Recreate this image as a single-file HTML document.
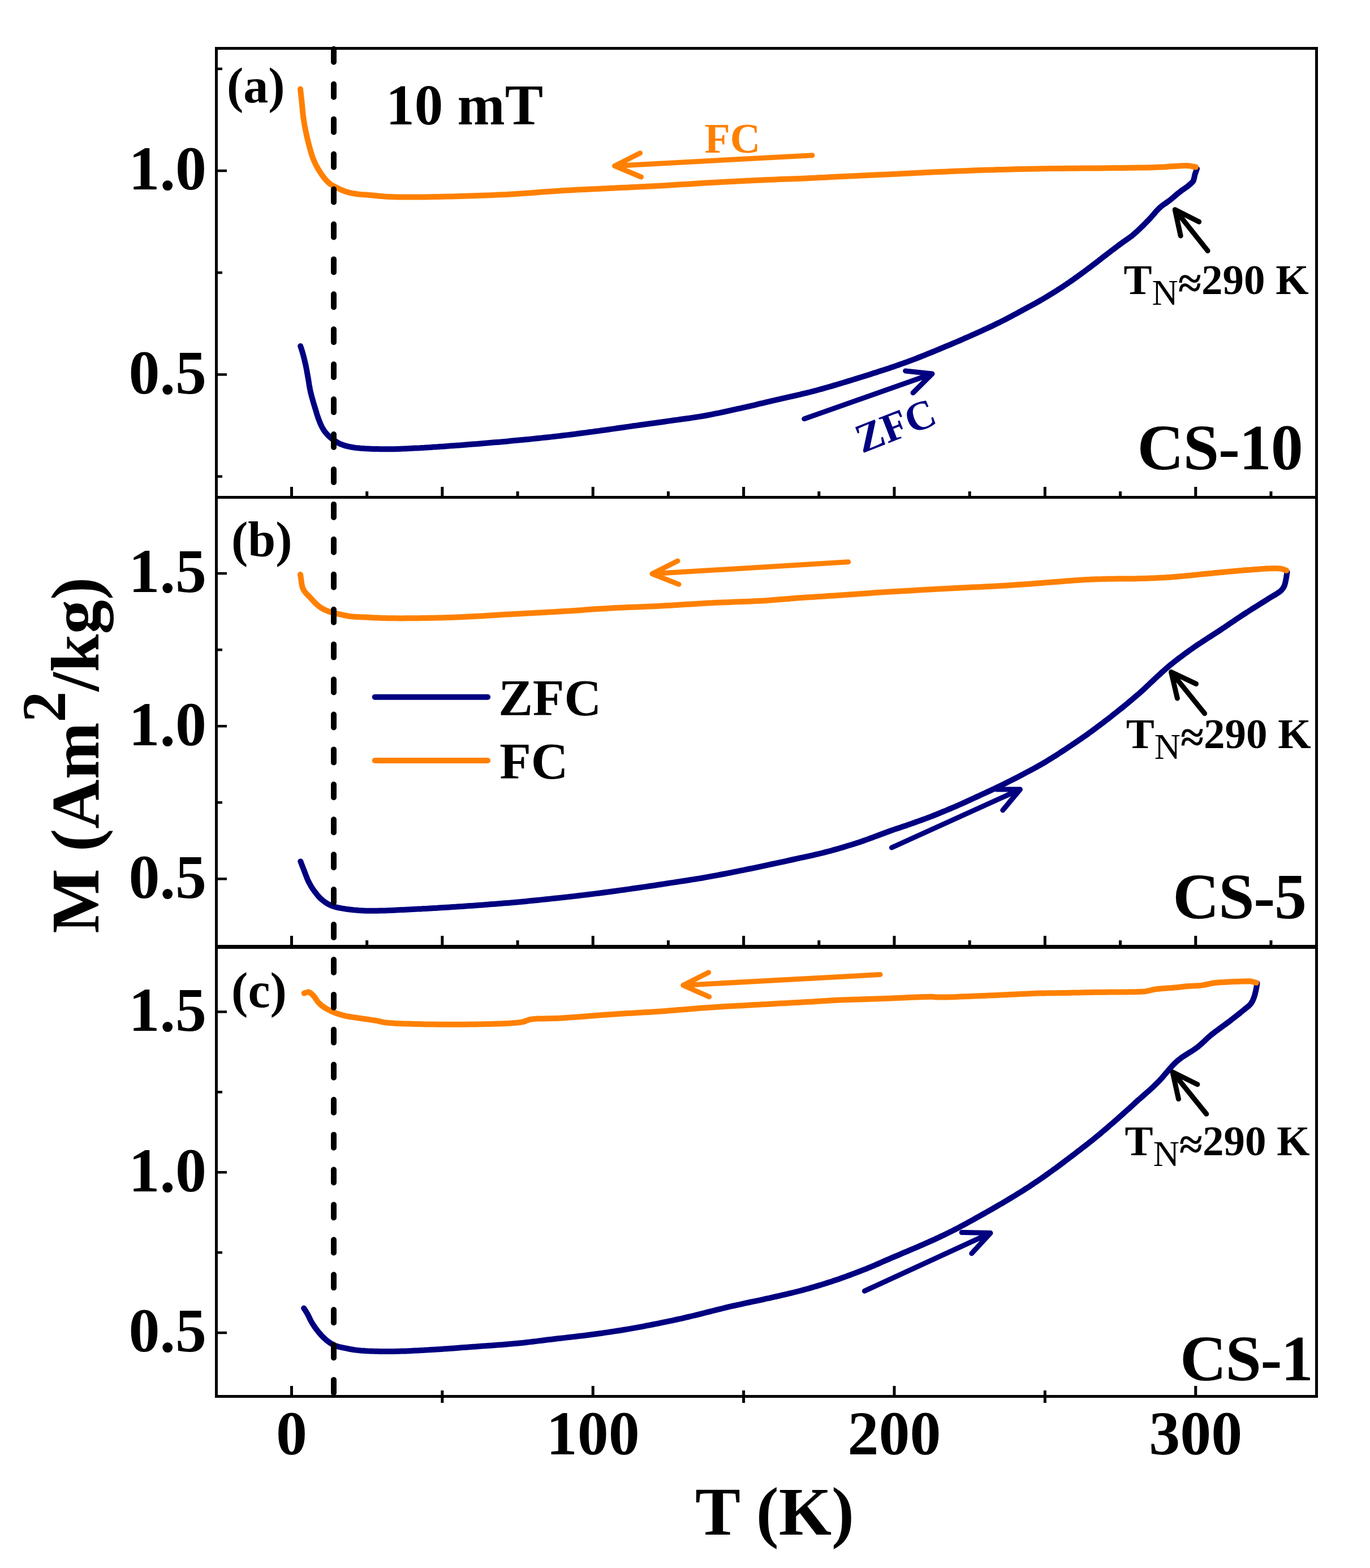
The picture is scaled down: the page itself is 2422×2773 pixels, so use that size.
<!DOCTYPE html>
<html><head><meta charset="utf-8"><style>
html,body{margin:0;padding:0;background:#fff;}
svg{display:block;}
text{font-family:'Liberation Serif', 'Times New Roman', serif;}
</style></head><body>
<svg xmlns="http://www.w3.org/2000/svg" width="2422" height="2773" viewBox="0 0 2422 2773">
<rect width="2422" height="2773" fill="#fff"/>
<path d="M531.2,612.0 L532.8,616.9 L534.5,622.3 L535.6,626.2 L536.8,630.6 L538.0,635.3 L539.1,640.0 L540.2,644.6 L541.1,649.1 L542.0,653.5 L542.8,658.0 L543.6,662.5 L544.4,667.0 L545.2,671.5 L545.9,676.1 L546.6,680.6 L547.4,685.0 L548.2,689.3 L549.2,693.8 L550.3,698.2 L551.4,702.4 L552.6,706.7 L553.8,710.9 L555.0,715.1 L556.3,719.3 L557.6,723.5 L558.9,727.7 L560.1,731.9 L561.4,736.0 L562.9,740.2 L564.5,744.5 L566.2,748.8 L568.1,753.0 L570.2,757.0 L572.3,760.5 L574.6,763.8 L577.2,766.9 L580.0,770.0 L583.0,772.8 L586.4,775.5 L589.9,778.2 L593.4,780.6 L596.7,782.6 L600.4,784.6 L604.0,786.1 L607.9,787.4 L611.8,788.6 L616.0,789.6 L620.3,790.5 L624.6,791.3 L628.7,791.9 L632.8,792.3 L637.0,792.7 L641.4,793.0 L645.6,793.3 L650.0,793.5 L654.5,793.7 L659.1,793.9 L663.7,794.0 L667.9,794.1 L672.1,794.2 L676.4,794.3 L680.7,794.3 L685.3,794.3 L690.0,794.3 L693.6,794.2 L697.4,794.2 L701.2,794.0 L705.2,793.9 L709.2,793.7 L713.3,793.6 L717.4,793.4 L721.6,793.2 L725.8,793.0 L730.0,792.8 L733.9,792.6 L737.9,792.4 L741.9,792.2 L746.0,791.9 L750.1,791.7 L754.2,791.4 L758.4,791.2 L762.6,790.9 L766.9,790.6 L771.2,790.4 L775.6,790.1 L780.0,789.8 L785.2,789.4 L790.6,789.0 L796.1,788.6 L801.6,788.2 L807.2,787.8 L812.9,787.4 L818.6,787.0 L824.3,786.5 L830.0,786.1 L835.7,785.6 L841.4,785.2 L847.0,784.7 L852.6,784.2 L858.2,783.8 L863.7,783.3 L869.3,782.8 L874.9,782.3 L880.5,781.9 L886.1,781.4 L891.6,780.9 L897.2,780.4 L902.8,779.8 L908.3,779.3 L913.9,778.8 L919.4,778.3 L924.9,777.7 L930.4,777.2 L936.0,776.7 L941.5,776.1 L947.0,775.6 L952.5,775.0 L958.0,774.4 L963.5,773.8 L969.0,773.2 L974.5,772.6 L980.0,772.0 L985.6,771.4 L991.1,770.7 L996.7,770.0 L1002.3,769.4 L1007.9,768.7 L1013.5,768.0 L1019.1,767.3 L1024.7,766.5 L1030.3,765.8 L1035.8,765.1 L1041.4,764.3 L1047.0,763.6 L1052.6,762.8 L1058.2,762.1 L1063.7,761.3 L1069.3,760.5 L1074.9,759.7 L1080.5,758.9 L1086.1,758.1 L1091.6,757.3 L1097.2,756.5 L1102.8,755.7 L1108.3,754.9 L1113.9,754.1 L1119.4,753.3 L1124.9,752.6 L1130.4,751.8 L1135.9,751.0 L1141.4,750.3 L1146.9,749.5 L1152.4,748.8 L1158.0,748.0 L1163.5,747.2 L1169.0,746.5 L1174.5,745.7 L1180.0,744.9 L1185.6,744.1 L1191.1,743.3 L1196.7,742.6 L1202.3,741.8 L1207.9,741.0 L1213.5,740.2 L1219.1,739.5 L1224.7,738.6 L1230.3,737.8 L1235.9,736.9 L1241.4,736.0 L1247.0,735.0 L1252.6,734.0 L1258.3,732.9 L1264.0,731.7 L1269.8,730.6 L1275.5,729.4 L1281.3,728.1 L1286.9,726.9 L1292.5,725.7 L1298.1,724.4 L1303.5,723.2 L1308.8,722.1 L1313.9,720.9 L1318.5,719.9 L1323.0,718.8 L1327.4,717.8 L1331.8,716.8 L1336.1,715.8 L1340.4,714.7 L1344.5,713.7 L1348.6,712.8 L1352.5,711.8 L1356.3,710.9 L1360.0,710.1 L1364.9,708.9 L1369.5,707.9 L1373.8,706.8 L1378.1,705.9 L1382.4,704.9 L1386.8,703.9 L1391.3,702.9 L1395.7,701.9 L1400.2,700.9 L1404.7,699.8 L1409.1,698.8 L1413.6,697.8 L1418.1,696.7 L1422.5,695.7 L1427.0,694.6 L1431.5,693.5 L1435.9,692.3 L1440.4,691.2 L1444.8,690.0 L1449.2,688.8 L1453.6,687.6 L1458.1,686.3 L1462.6,685.0 L1467.2,683.7 L1471.1,682.6 L1475.1,681.4 L1479.1,680.2 L1483.2,679.0 L1487.3,677.7 L1491.5,676.5 L1495.7,675.2 L1500.0,673.9 L1503.9,672.7 L1507.8,671.5 L1511.8,670.3 L1515.8,669.0 L1519.9,667.7 L1524.0,666.5 L1528.0,665.2 L1532.1,663.9 L1536.1,662.7 L1540.0,661.4 L1544.1,660.1 L1548.1,658.9 L1552.1,657.6 L1556.0,656.3 L1560.0,655.0 L1563.9,653.8 L1567.8,652.5 L1571.8,651.2 L1575.7,649.8 L1579.7,648.5 L1583.6,647.1 L1587.6,645.7 L1591.6,644.3 L1595.6,642.9 L1599.5,641.5 L1603.5,640.1 L1607.4,638.6 L1611.4,637.1 L1615.4,635.6 L1619.4,634.1 L1623.3,632.5 L1627.3,631.0 L1631.3,629.4 L1635.2,627.8 L1639.2,626.2 L1643.1,624.6 L1647.1,623.0 L1651.2,621.3 L1655.3,619.6 L1659.5,617.9 L1663.7,616.1 L1667.9,614.4 L1671.9,612.7 L1675.8,611.1 L1679.5,609.6 L1682.9,608.1 L1687.5,606.2 L1691.5,604.5 L1695.4,602.8 L1700.0,600.8 L1703.4,599.3 L1707.1,597.7 L1711.0,596.0 L1715.0,594.2 L1719.1,592.4 L1723.3,590.5 L1727.5,588.7 L1731.7,586.8 L1735.7,585.0 L1739.7,583.1 L1743.7,581.3 L1747.6,579.4 L1751.6,577.6 L1755.6,575.7 L1759.5,573.8 L1763.5,571.8 L1767.5,569.9 L1771.4,567.9 L1775.0,566.1 L1778.6,564.3 L1782.1,562.4 L1785.7,560.5 L1789.3,558.6 L1792.8,556.7 L1796.4,554.8 L1800.0,552.9 L1803.5,550.9 L1807.1,549.0 L1810.7,547.0 L1814.5,545.0 L1818.3,542.9 L1822.1,540.9 L1825.8,538.8 L1829.5,536.8 L1833.1,534.8 L1836.6,532.8 L1839.9,531.0 L1842.9,529.2 L1847.6,526.5 L1851.7,524.1 L1855.7,521.6 L1860.0,519.0 L1863.6,516.8 L1867.2,514.5 L1871.0,512.1 L1874.8,509.6 L1878.6,507.2 L1882.3,504.7 L1886.0,502.2 L1889.7,499.7 L1893.4,497.1 L1897.0,494.6 L1900.8,491.9 L1904.6,489.2 L1907.8,486.8 L1911.2,484.4 L1914.5,482.0 L1917.9,479.5 L1921.3,476.9 L1924.7,474.4 L1928.0,471.9 L1931.4,469.3 L1934.8,466.8 L1938.1,464.2 L1941.5,461.6 L1944.8,459.0 L1948.1,456.4 L1951.5,453.8 L1954.8,451.2 L1958.2,448.6 L1961.6,446.0 L1965.0,443.4 L1968.5,440.8 L1971.9,438.2 L1975.3,435.6 L1978.7,433.1 L1981.9,430.7 L1985.0,428.4 L1988.8,425.8 L1992.3,423.4 L1995.7,421.0 L1999.2,418.5 L2002.9,415.6 L2005.7,413.1 L2008.7,410.5 L2011.8,407.6 L2014.9,404.7 L2018.0,401.7 L2021.1,398.6 L2024.2,395.5 L2027.1,392.5 L2030.0,389.6 L2033.2,386.2 L2036.3,382.7 L2039.4,379.2 L2042.3,375.7 L2045.3,372.4 L2048.2,369.3 L2051.2,366.5 L2054.6,363.7 L2057.9,361.3 L2061.3,359.0 L2064.6,356.7 L2067.9,354.3 L2071.3,351.6 L2074.6,348.7 L2077.9,345.9 L2081.2,343.0 L2084.6,340.3 L2088.0,337.7 L2091.6,335.2 L2095.1,332.7 L2098.5,330.3 L2101.4,328.0 L2106.0,324.2 L2109.5,320.2 L2111.2,314.8 L2112.3,309.1 L2114.1,303.8 L2116.0,298.5" fill="none" stroke="#000080" stroke-width="10" stroke-linecap="round" stroke-linejoin="round"/>
<path d="M531.0,157.5 L531.5,162.0 L532.0,166.5 L532.5,171.0 L533.0,175.6 L533.5,180.2 L533.9,184.3 L534.3,188.5 L534.7,192.7 L535.0,196.9 L535.5,201.1 L536.0,205.3 L536.6,209.5 L537.2,213.7 L537.9,217.9 L538.6,222.1 L539.4,226.3 L540.2,230.5 L541.1,234.7 L542.0,238.9 L542.9,243.1 L543.9,247.3 L544.9,251.4 L546.0,255.6 L547.1,259.8 L548.3,264.1 L549.5,268.4 L550.8,272.6 L552.1,276.7 L553.6,280.7 L555.3,284.9 L557.2,289.0 L559.1,292.9 L561.3,296.9 L563.6,300.8 L566.0,304.5 L568.5,308.4 L571.2,312.2 L574.1,315.9 L577.0,319.3 L580.0,322.3 L584.0,325.5 L588.1,328.1 L592.4,330.4 L596.7,332.6 L600.8,334.6 L605.0,336.5 L609.3,338.2 L613.5,339.6 L617.6,340.7 L621.7,341.6 L625.8,342.3 L630.2,343.0 L634.4,343.5 L638.8,343.9 L643.3,344.2 L647.8,344.5 L652.5,344.9 L656.8,345.3 L661.2,345.8 L665.7,346.3 L670.2,346.7 L675.0,347.1 L680.0,347.5 L683.6,347.7 L687.2,347.9 L691.0,348.0 L694.8,348.2 L698.7,348.3 L702.7,348.4 L706.8,348.4 L711.0,348.5 L715.4,348.5 L719.9,348.6 L724.6,348.6 L731.0,348.6 L737.7,348.6 L744.8,348.5 L752.1,348.4 L759.6,348.3 L767.3,348.1 L775.1,348.0 L783.0,347.8 L790.9,347.6 L798.7,347.4 L806.4,347.2 L813.9,347.0 L821.3,346.8 L828.8,346.6 L836.2,346.3 L843.7,346.1 L851.1,345.8 L858.6,345.5 L866.0,345.3 L873.4,344.9 L880.9,344.6 L888.3,344.3 L895.8,343.9 L903.2,343.5 L910.6,343.1 L918.1,342.6 L925.6,342.1 L933.0,341.5 L940.5,341.0 L947.9,340.4 L955.4,339.8 L962.8,339.3 L970.2,338.7 L977.7,338.2 L985.1,337.7 L992.5,337.2 L999.8,336.8 L1007.1,336.4 L1014.4,336.0 L1021.7,335.6 L1029.0,335.2 L1036.2,334.9 L1043.5,334.5 L1050.8,334.2 L1058.1,333.9 L1065.4,333.5 L1072.7,333.2 L1080.0,332.8 L1087.4,332.4 L1094.8,332.1 L1102.3,331.7 L1109.7,331.4 L1117.1,331.0 L1124.6,330.7 L1132.0,330.3 L1139.5,329.9 L1147.0,329.6 L1154.4,329.2 L1161.9,328.8 L1169.3,328.4 L1176.7,328.0 L1184.2,327.5 L1191.6,327.1 L1199.1,326.6 L1206.5,326.1 L1214.0,325.7 L1221.4,325.2 L1228.8,324.7 L1236.3,324.2 L1243.7,323.8 L1251.2,323.3 L1258.6,322.9 L1266.0,322.5 L1273.5,322.1 L1280.9,321.7 L1288.4,321.3 L1295.8,320.9 L1303.3,320.5 L1310.7,320.2 L1318.1,319.8 L1325.6,319.4 L1333.0,319.1 L1340.5,318.7 L1347.9,318.4 L1355.4,318.1 L1363.1,317.7 L1371.0,317.4 L1378.8,317.1 L1386.7,316.8 L1394.5,316.5 L1402.2,316.2 L1409.8,315.9 L1417.1,315.7 L1424.1,315.4 L1430.8,315.1 L1437.1,314.8 L1441.9,314.6 L1446.4,314.3 L1450.6,314.1 L1454.6,313.9 L1458.5,313.7 L1462.5,313.4 L1466.5,313.2 L1470.7,313.0 L1475.1,312.7 L1480.0,312.5 L1486.3,312.2 L1493.0,311.9 L1500.0,311.5 L1507.4,311.2 L1514.9,310.9 L1522.6,310.5 L1530.5,310.2 L1538.3,309.8 L1546.2,309.5 L1554.0,309.1 L1561.8,308.8 L1569.3,308.4 L1576.7,308.0 L1584.2,307.7 L1591.6,307.3 L1599.1,306.9 L1606.5,306.5 L1613.9,306.2 L1621.4,305.8 L1628.8,305.4 L1636.3,305.0 L1643.7,304.7 L1651.2,304.3 L1658.6,304.0 L1666.0,303.7 L1673.5,303.4 L1680.9,303.1 L1688.4,302.7 L1695.8,302.5 L1703.3,302.2 L1710.7,301.9 L1718.1,301.6 L1725.6,301.3 L1733.0,301.1 L1740.5,300.8 L1747.9,300.6 L1755.4,300.4 L1763.1,300.1 L1771.0,299.9 L1778.8,299.7 L1786.7,299.5 L1794.5,299.3 L1802.2,299.1 L1809.8,299.0 L1817.1,298.8 L1824.1,298.7 L1830.8,298.5 L1837.1,298.4 L1842.0,298.3 L1846.5,298.3 L1850.7,298.2 L1854.7,298.1 L1858.7,298.1 L1862.6,298.1 L1866.6,298.0 L1870.8,298.0 L1875.2,297.9 L1880.0,297.9 L1885.8,297.8 L1891.9,297.8 L1898.3,297.7 L1904.8,297.7 L1911.6,297.6 L1918.5,297.6 L1925.4,297.5 L1932.4,297.5 L1939.4,297.4 L1946.4,297.4 L1953.3,297.3 L1960.0,297.2 L1966.8,297.1 L1973.9,297.1 L1981.2,297.0 L1988.5,296.9 L1995.8,296.8 L2003.1,296.7 L2010.2,296.6 L2017.0,296.5 L2023.5,296.4 L2029.5,296.3 L2035.1,296.2 L2040.0,296.0 L2045.3,295.8 L2049.9,295.6 L2054.0,295.4 L2058.1,295.2 L2062.3,294.9 L2066.8,294.6 L2071.4,294.3 L2075.9,294.0 L2080.3,293.7 L2084.6,293.4 L2089.0,293.2 L2093.3,293.1 L2097.4,293.0 L2101.4,293.2 L2105.7,293.8 L2109.9,294.6 L2114.0,295.5" fill="none" stroke="#FF8000" stroke-width="10" stroke-linecap="round" stroke-linejoin="round"/>
<path d="M531.3,1523.4 L533.1,1528.0 L534.9,1532.7 L536.7,1537.3 L538.5,1541.9 L540.1,1546.2 L541.7,1550.3 L543.3,1554.5 L545.2,1558.6 L547.4,1562.8 L549.8,1567.1 L552.4,1571.2 L555.2,1575.3 L557.9,1578.8 L560.8,1582.4 L563.8,1585.9 L567.0,1589.2 L570.3,1592.1 L574.2,1595.1 L578.3,1597.8 L582.6,1600.1 L587.1,1602.1 L591.1,1603.5 L595.3,1604.6 L599.6,1605.5 L604.1,1606.3 L608.8,1607.1 L612.6,1607.7 L616.6,1608.2 L620.8,1608.7 L625.1,1609.2 L629.4,1609.6 L633.7,1610.0 L638.1,1610.3 L642.3,1610.5 L646.5,1610.7 L650.6,1610.8 L654.7,1610.8 L658.8,1610.8 L663.0,1610.8 L667.2,1610.7 L671.4,1610.6 L675.8,1610.5 L679.8,1610.4 L683.9,1610.3 L688.0,1610.1 L692.2,1609.9 L696.4,1609.7 L700.7,1609.5 L704.9,1609.3 L709.2,1609.1 L713.4,1608.9 L717.6,1608.7 L721.9,1608.5 L726.2,1608.3 L730.6,1608.0 L735.1,1607.8 L739.5,1607.6 L743.8,1607.4 L748.0,1607.1 L752.1,1606.9 L755.9,1606.7 L759.5,1606.5 L763.9,1606.3 L767.7,1606.1 L771.3,1605.9 L775.3,1605.6 L780.0,1605.3 L784.2,1605.1 L788.9,1604.8 L794.0,1604.4 L799.5,1604.1 L805.2,1603.7 L811.1,1603.3 L817.1,1602.9 L823.2,1602.5 L829.4,1602.1 L835.4,1601.7 L841.3,1601.3 L847.0,1600.8 L852.6,1600.4 L858.2,1600.0 L863.7,1599.6 L869.3,1599.1 L874.9,1598.7 L880.5,1598.3 L886.1,1597.8 L891.6,1597.3 L897.2,1596.9 L902.8,1596.4 L908.3,1595.9 L913.9,1595.4 L919.4,1594.9 L924.9,1594.4 L930.4,1593.9 L936.0,1593.3 L941.5,1592.8 L947.0,1592.2 L952.5,1591.7 L958.0,1591.1 L963.5,1590.6 L969.0,1590.0 L974.5,1589.4 L980.0,1588.8 L985.6,1588.2 L991.1,1587.6 L996.7,1587.0 L1002.3,1586.4 L1007.9,1585.7 L1013.5,1585.1 L1019.1,1584.5 L1024.7,1583.8 L1030.2,1583.1 L1035.8,1582.5 L1041.4,1581.8 L1047.0,1581.1 L1052.6,1580.4 L1058.2,1579.7 L1063.7,1579.0 L1069.3,1578.2 L1074.9,1577.5 L1080.5,1576.7 L1086.1,1576.0 L1091.6,1575.2 L1097.2,1574.4 L1102.8,1573.7 L1108.3,1572.9 L1113.9,1572.1 L1119.4,1571.3 L1124.9,1570.5 L1130.4,1569.7 L1136.0,1568.9 L1141.5,1568.1 L1147.0,1567.3 L1152.5,1566.5 L1158.0,1565.7 L1163.5,1564.8 L1169.0,1564.0 L1174.5,1563.1 L1180.0,1562.3 L1185.6,1561.4 L1191.1,1560.6 L1196.7,1559.8 L1202.3,1558.9 L1207.9,1558.0 L1213.5,1557.2 L1219.1,1556.3 L1224.7,1555.4 L1230.3,1554.5 L1235.8,1553.6 L1241.4,1552.7 L1247.0,1551.7 L1252.6,1550.7 L1258.2,1549.7 L1263.8,1548.7 L1269.3,1547.6 L1274.9,1546.5 L1280.5,1545.5 L1286.1,1544.4 L1291.6,1543.3 L1297.2,1542.2 L1302.8,1541.1 L1308.3,1539.9 L1313.9,1538.8 L1319.5,1537.7 L1325.3,1536.5 L1331.1,1535.3 L1337.0,1534.1 L1342.9,1532.8 L1348.8,1531.6 L1354.5,1530.4 L1360.1,1529.2 L1365.5,1528.0 L1370.7,1526.9 L1375.5,1525.9 L1380.0,1524.9 L1385.1,1523.8 L1389.6,1522.8 L1393.7,1521.9 L1397.8,1521.0 L1402.2,1520.0 L1407.1,1518.9 L1410.9,1518.1 L1415.0,1517.2 L1419.2,1516.3 L1423.6,1515.3 L1428.2,1514.3 L1432.8,1513.3 L1437.5,1512.3 L1442.2,1511.2 L1446.9,1510.1 L1451.6,1509.0 L1456.2,1507.9 L1460.7,1506.7 L1465.2,1505.5 L1469.9,1504.3 L1474.6,1502.9 L1479.3,1501.6 L1484.1,1500.2 L1488.8,1498.9 L1493.4,1497.5 L1497.9,1496.1 L1502.3,1494.8 L1506.5,1493.5 L1510.5,1492.2 L1514.3,1491.0 L1519.1,1489.4 L1523.4,1488.0 L1527.5,1486.5 L1531.5,1485.1 L1535.6,1483.6 L1540.0,1482.0 L1543.7,1480.7 L1547.5,1479.2 L1551.5,1477.8 L1555.5,1476.3 L1559.5,1474.8 L1563.6,1473.3 L1567.6,1471.8 L1571.7,1470.3 L1575.7,1468.8 L1579.7,1467.4 L1583.6,1466.1 L1587.6,1464.7 L1591.6,1463.4 L1595.5,1462.1 L1599.5,1460.7 L1603.5,1459.4 L1607.4,1458.0 L1611.4,1456.6 L1615.4,1455.2 L1619.3,1453.8 L1623.3,1452.4 L1627.3,1451.0 L1631.3,1449.5 L1635.2,1448.1 L1639.2,1446.6 L1643.1,1445.1 L1647.1,1443.6 L1651.2,1442.0 L1655.3,1440.4 L1659.5,1438.6 L1663.7,1436.9 L1667.9,1435.2 L1672.0,1433.5 L1675.8,1431.9 L1679.5,1430.3 L1682.9,1428.9 L1687.5,1427.0 L1691.5,1425.2 L1695.4,1423.5 L1700.0,1421.5 L1703.4,1419.9 L1707.1,1418.3 L1710.9,1416.5 L1715.0,1414.7 L1719.1,1412.8 L1723.3,1410.8 L1727.5,1408.9 L1731.7,1407.0 L1735.7,1405.1 L1739.7,1403.3 L1743.6,1401.4 L1747.6,1399.6 L1751.6,1397.7 L1755.6,1395.9 L1759.5,1394.0 L1763.5,1392.1 L1767.4,1390.2 L1771.4,1388.3 L1775.0,1386.5 L1778.6,1384.7 L1782.1,1382.9 L1785.7,1381.1 L1789.3,1379.3 L1792.8,1377.5 L1796.4,1375.7 L1800.0,1373.8 L1803.5,1372.0 L1807.1,1370.1 L1810.7,1368.2 L1814.5,1366.2 L1818.3,1364.2 L1822.1,1362.1 L1825.9,1360.1 L1829.6,1358.1 L1833.2,1356.1 L1836.6,1354.2 L1839.9,1352.3 L1842.9,1350.6 L1846.7,1348.4 L1850.1,1346.4 L1853.2,1344.4 L1856.5,1342.4 L1860.0,1340.2 L1863.4,1338.1 L1866.9,1335.9 L1870.5,1333.6 L1874.1,1331.2 L1877.9,1328.7 L1881.8,1326.2 L1885.7,1323.6 L1889.0,1321.4 L1892.5,1319.1 L1896.0,1316.7 L1899.6,1314.3 L1903.2,1311.9 L1906.9,1309.4 L1910.6,1306.9 L1914.2,1304.3 L1917.8,1301.8 L1921.4,1299.3 L1924.7,1296.9 L1928.0,1294.5 L1931.3,1292.1 L1934.5,1289.7 L1937.8,1287.3 L1941.1,1284.8 L1944.4,1282.3 L1947.6,1279.9 L1950.8,1277.5 L1954.0,1275.0 L1957.1,1272.6 L1960.7,1269.9 L1964.3,1267.1 L1967.9,1264.2 L1971.5,1261.4 L1975.0,1258.6 L1978.4,1255.9 L1981.7,1253.3 L1984.9,1250.8 L1987.8,1248.4 L1991.3,1245.5 L1994.4,1242.9 L1997.4,1240.4 L2000.4,1237.9 L2003.4,1235.3 L2006.5,1232.7 L2009.5,1230.1 L2012.6,1227.5 L2015.7,1224.8 L2019.0,1221.8 L2021.7,1219.3 L2024.6,1216.7 L2027.5,1213.9 L2030.5,1211.1 L2033.5,1208.2 L2036.5,1205.3 L2039.5,1202.5 L2042.5,1199.7 L2045.8,1196.6 L2049.2,1193.6 L2052.5,1190.5 L2055.8,1187.4 L2059.2,1184.4 L2062.5,1181.5 L2065.9,1178.6 L2069.2,1175.8 L2072.6,1173.2 L2075.9,1170.5 L2079.3,1167.9 L2082.6,1165.3 L2086.0,1162.7 L2089.4,1160.2 L2092.7,1157.8 L2095.8,1155.4 L2099.0,1153.1 L2102.2,1150.8 L2105.5,1148.5 L2109.0,1146.0 L2112.8,1143.4 L2116.0,1141.2 L2119.4,1138.9 L2123.0,1136.6 L2126.7,1134.1 L2130.5,1131.7 L2134.4,1129.1 L2138.4,1126.6 L2142.3,1124.0 L2146.2,1121.5 L2150.1,1119.0 L2154.0,1116.5 L2157.7,1114.0 L2161.2,1111.6 L2164.8,1109.3 L2168.3,1106.9 L2171.7,1104.6 L2175.2,1102.2 L2178.7,1099.9 L2182.1,1097.6 L2185.6,1095.2 L2189.1,1092.9 L2192.5,1090.6 L2196.0,1088.3 L2199.5,1086.0 L2203.0,1083.7 L2206.6,1081.4 L2210.2,1079.1 L2213.9,1076.8 L2217.5,1074.5 L2221.2,1072.2 L2224.8,1070.0 L2228.3,1067.8 L2231.8,1065.6 L2235.1,1063.5 L2238.3,1061.5 L2241.4,1059.5 L2245.3,1057.1 L2249.2,1054.8 L2252.9,1052.6 L2256.5,1050.4 L2259.7,1048.3 L2262.6,1046.3 L2265.0,1044.2 L2268.4,1040.1 L2270.7,1035.8 L2272.3,1030.4 L2273.4,1024.6 L2274.2,1020.5 L2274.8,1016.2 L2275.5,1012.0" fill="none" stroke="#000080" stroke-width="10" stroke-linecap="round" stroke-linejoin="round"/>
<path d="M531.0,1016.0 L531.7,1020.4 L532.3,1025.0 L532.9,1029.6 L533.6,1034.0 L534.6,1038.2 L536.0,1042.0 L538.6,1046.2 L541.7,1050.0 L545.1,1053.4 L548.6,1057.0 L551.4,1060.1 L554.4,1063.3 L557.4,1066.5 L560.5,1069.4 L563.6,1072.0 L567.3,1074.6 L571.1,1076.9 L575.0,1078.8 L578.7,1080.5 L582.5,1081.8 L586.2,1082.8 L590.4,1083.8 L594.2,1084.8 L598.4,1085.8 L602.9,1086.9 L607.6,1088.0 L612.4,1088.9 L617.2,1089.7 L621.2,1090.2 L625.3,1090.6 L629.6,1090.9 L633.8,1091.1 L638.1,1091.3 L642.4,1091.4 L646.6,1091.6 L650.7,1091.8 L654.9,1092.0 L658.9,1092.2 L662.8,1092.5 L666.7,1092.6 L670.8,1092.8 L675.2,1093.0 L680.0,1093.1 L684.6,1093.2 L689.6,1093.3 L694.8,1093.3 L700.3,1093.3 L706.0,1093.4 L711.8,1093.4 L717.7,1093.3 L723.7,1093.3 L729.6,1093.3 L735.5,1093.2 L741.3,1093.2 L747.0,1093.1 L752.5,1093.0 L758.0,1092.9 L763.5,1092.8 L768.9,1092.7 L774.4,1092.6 L779.9,1092.5 L785.3,1092.3 L790.9,1092.1 L796.5,1092.0 L802.2,1091.8 L808.0,1091.5 L813.9,1091.3 L820.9,1091.0 L828.0,1090.6 L835.3,1090.2 L842.7,1089.8 L850.2,1089.4 L857.7,1088.9 L865.3,1088.5 L873.0,1088.0 L880.6,1087.5 L888.2,1087.1 L895.7,1086.6 L903.2,1086.2 L910.6,1085.8 L918.1,1085.4 L925.5,1085.0 L933.0,1084.6 L940.5,1084.2 L947.9,1083.8 L955.4,1083.4 L962.8,1083.0 L970.2,1082.6 L977.7,1082.2 L985.1,1081.7 L992.5,1081.3 L999.8,1080.8 L1007.1,1080.4 L1014.4,1079.9 L1021.7,1079.4 L1029.0,1078.9 L1036.2,1078.3 L1043.5,1077.8 L1050.8,1077.3 L1058.1,1076.8 L1065.4,1076.4 L1072.7,1075.9 L1080.0,1075.5 L1087.4,1075.1 L1094.8,1074.7 L1102.3,1074.4 L1109.7,1074.1 L1117.1,1073.8 L1124.6,1073.5 L1132.0,1073.2 L1139.5,1072.9 L1147.0,1072.5 L1154.4,1072.2 L1161.9,1071.9 L1169.3,1071.5 L1176.7,1071.1 L1184.2,1070.7 L1191.6,1070.2 L1199.1,1069.8 L1206.5,1069.3 L1213.9,1068.8 L1221.4,1068.4 L1228.8,1067.9 L1236.3,1067.4 L1243.7,1067.0 L1251.2,1066.6 L1258.6,1066.2 L1266.1,1065.8 L1273.9,1065.5 L1281.7,1065.2 L1289.6,1064.9 L1297.5,1064.6 L1305.3,1064.3 L1313.0,1064.0 L1320.6,1063.7 L1327.9,1063.4 L1334.9,1063.1 L1341.6,1062.8 L1347.9,1062.5 L1352.8,1062.2 L1357.6,1061.8 L1362.2,1061.5 L1366.6,1061.1 L1370.9,1060.8 L1375.0,1060.4 L1379.0,1060.1 L1382.8,1059.8 L1386.5,1059.5 L1390.0,1059.2 L1394.3,1058.9 L1397.9,1058.6 L1401.5,1058.3 L1405.3,1058.0 L1410.0,1057.6 L1414.3,1057.3 L1419.1,1057.0 L1424.3,1056.6 L1429.9,1056.3 L1435.7,1055.9 L1441.8,1055.5 L1448.1,1055.1 L1454.5,1054.7 L1460.9,1054.3 L1467.3,1053.8 L1473.7,1053.4 L1480.0,1053.0 L1487.0,1052.5 L1494.1,1052.0 L1501.3,1051.5 L1508.6,1051.0 L1515.9,1050.5 L1523.3,1049.9 L1530.8,1049.4 L1538.4,1048.9 L1546.0,1048.3 L1553.7,1047.8 L1561.5,1047.3 L1569.3,1046.8 L1578.2,1046.3 L1587.2,1045.7 L1596.3,1045.2 L1605.6,1044.7 L1614.9,1044.2 L1624.3,1043.6 L1633.8,1043.1 L1643.2,1042.6 L1652.7,1042.1 L1662.2,1041.6 L1671.6,1041.1 L1680.9,1040.6 L1690.2,1040.1 L1699.7,1039.6 L1709.1,1039.1 L1718.6,1038.6 L1728.1,1038.2 L1737.6,1037.7 L1747.0,1037.2 L1756.3,1036.7 L1765.6,1036.2 L1774.7,1035.7 L1783.7,1035.2 L1792.5,1034.6 L1800.3,1034.1 L1808.0,1033.5 L1815.8,1033.0 L1823.5,1032.4 L1831.2,1031.8 L1838.7,1031.2 L1846.2,1030.6 L1853.4,1030.0 L1860.4,1029.4 L1867.2,1028.9 L1873.8,1028.4 L1880.0,1027.9 L1884.7,1027.6 L1889.2,1027.3 L1893.5,1027.0 L1897.7,1026.6 L1901.9,1026.3 L1905.9,1026.1 L1909.8,1025.8 L1913.6,1025.5 L1917.3,1025.3 L1921.0,1025.1 L1924.6,1024.9 L1929.7,1024.6 L1934.5,1024.5 L1939.1,1024.3 L1943.7,1024.2 L1948.1,1024.1 L1952.5,1023.9 L1957.1,1023.8 L1961.4,1023.8 L1965.7,1023.7 L1970.2,1023.7 L1974.9,1023.6 L1978.8,1023.6 L1983.0,1023.5 L1987.4,1023.5 L1991.9,1023.5 L1996.3,1023.4 L2000.6,1023.4 L2004.6,1023.4 L2008.3,1023.3 L2012.8,1023.2 L2016.7,1023.1 L2020.6,1023.0 L2025.1,1022.9 L2028.8,1022.7 L2032.8,1022.6 L2037.2,1022.4 L2041.6,1022.2 L2046.1,1022.0 L2050.5,1021.8 L2054.7,1021.6 L2058.6,1021.4 L2063.1,1021.1 L2067.1,1020.9 L2071.1,1020.6 L2075.3,1020.3 L2080.0,1019.9 L2083.4,1019.6 L2087.1,1019.3 L2091.0,1018.9 L2095.0,1018.5 L2099.2,1018.1 L2103.4,1017.7 L2107.7,1017.2 L2112.0,1016.8 L2116.3,1016.4 L2120.5,1015.9 L2124.6,1015.5 L2128.7,1015.1 L2132.7,1014.7 L2136.8,1014.3 L2140.9,1013.9 L2144.9,1013.5 L2149.0,1013.1 L2153.0,1012.7 L2157.1,1012.3 L2161.2,1011.9 L2165.2,1011.5 L2169.3,1011.2 L2173.4,1010.8 L2177.5,1010.4 L2181.6,1010.1 L2185.8,1009.7 L2189.9,1009.3 L2194.1,1009.0 L2198.1,1008.6 L2202.2,1008.3 L2206.2,1008.0 L2210.1,1007.7 L2213.9,1007.4 L2218.4,1007.0 L2222.8,1006.7 L2227.2,1006.4 L2231.6,1006.0 L2235.8,1005.8 L2239.8,1005.5 L2243.7,1005.4 L2247.4,1005.3 L2252.6,1005.2 L2257.5,1005.3 L2262.0,1005.5 L2266.0,1006.0 L2270.3,1007.4 L2274.2,1009.0" fill="none" stroke="#FF8000" stroke-width="10" stroke-linecap="round" stroke-linejoin="round"/>
<path d="M537.2,2313.6 L540.4,2318.5 L543.5,2323.6 L545.7,2327.9 L547.8,2332.4 L550.2,2337.0 L552.5,2340.8 L554.9,2344.6 L557.5,2348.4 L560.3,2352.1 L562.7,2355.2 L565.3,2358.3 L568.0,2361.4 L570.8,2364.3 L573.7,2367.1 L576.8,2369.8 L580.0,2372.4 L583.4,2374.8 L586.9,2377.0 L590.4,2378.9 L594.8,2380.6 L599.3,2381.9 L603.9,2382.9 L608.8,2383.9 L612.7,2384.7 L616.8,2385.5 L620.9,2386.3 L625.2,2387.0 L629.5,2387.6 L634.0,2388.1 L637.9,2388.5 L642.0,2388.8 L646.2,2389.1 L650.4,2389.3 L654.7,2389.4 L658.9,2389.6 L663.2,2389.7 L667.4,2389.8 L671.6,2389.9 L675.8,2389.9 L680.1,2390.0 L684.3,2390.0 L688.5,2390.0 L692.7,2389.9 L696.8,2389.9 L700.9,2389.8 L705.1,2389.7 L709.1,2389.6 L713.1,2389.5 L717.1,2389.4 L721.2,2389.2 L725.5,2389.0 L730.0,2388.8 L733.7,2388.6 L737.5,2388.4 L741.4,2388.2 L745.4,2388.0 L749.5,2387.8 L753.7,2387.5 L758.0,2387.3 L762.3,2387.0 L766.7,2386.7 L771.1,2386.4 L775.5,2386.2 L780.0,2385.9 L785.2,2385.5 L790.6,2385.2 L796.1,2384.8 L801.6,2384.4 L807.2,2384.0 L812.9,2383.6 L818.6,2383.1 L824.3,2382.7 L830.0,2382.3 L835.7,2381.8 L841.4,2381.4 L847.0,2381.0 L852.6,2380.6 L858.2,2380.2 L863.7,2379.8 L869.3,2379.4 L874.9,2379.0 L880.5,2378.6 L886.1,2378.2 L891.6,2377.7 L897.2,2377.3 L902.8,2376.8 L908.3,2376.3 L913.9,2375.8 L919.4,2375.2 L924.9,2374.7 L930.5,2374.0 L936.0,2373.4 L941.5,2372.7 L947.0,2372.1 L952.5,2371.4 L958.0,2370.7 L963.5,2370.0 L969.0,2369.3 L974.5,2368.7 L980.0,2368.0 L985.6,2367.3 L991.1,2366.7 L996.7,2366.1 L1002.3,2365.4 L1007.9,2364.8 L1013.5,2364.1 L1019.1,2363.5 L1024.7,2362.8 L1030.3,2362.2 L1035.8,2361.5 L1041.4,2360.7 L1047.0,2360.0 L1052.6,2359.2 L1058.2,2358.5 L1063.8,2357.7 L1069.3,2356.9 L1074.9,2356.1 L1080.5,2355.3 L1086.1,2354.4 L1091.7,2353.5 L1097.2,2352.7 L1102.8,2351.8 L1108.3,2350.8 L1113.9,2349.9 L1119.5,2348.9 L1125.1,2347.9 L1130.8,2346.9 L1136.5,2345.8 L1142.1,2344.7 L1147.8,2343.6 L1153.4,2342.5 L1158.9,2341.4 L1164.4,2340.3 L1169.7,2339.2 L1174.9,2338.1 L1180.0,2337.1 L1184.4,2336.2 L1188.6,2335.3 L1192.7,2334.4 L1196.7,2333.5 L1200.6,2332.6 L1204.6,2331.8 L1208.5,2330.9 L1212.4,2329.9 L1216.5,2329.0 L1220.7,2328.0 L1225.0,2327.0 L1229.9,2325.8 L1234.8,2324.6 L1239.9,2323.3 L1245.1,2322.0 L1250.3,2320.7 L1255.6,2319.3 L1260.9,2318.0 L1266.3,2316.6 L1271.6,2315.3 L1277.0,2314.0 L1282.3,2312.7 L1287.5,2311.4 L1292.8,2310.2 L1298.2,2309.0 L1303.6,2307.8 L1309.2,2306.6 L1314.7,2305.4 L1320.2,2304.2 L1325.6,2303.0 L1330.8,2301.9 L1336.0,2300.8 L1340.9,2299.8 L1345.6,2298.8 L1350.0,2297.8 L1354.8,2296.7 L1359.3,2295.8 L1363.5,2294.8 L1367.5,2293.9 L1371.6,2293.0 L1375.7,2292.1 L1380.0,2291.1 L1383.8,2290.2 L1387.7,2289.3 L1391.7,2288.4 L1395.7,2287.4 L1399.7,2286.5 L1403.7,2285.5 L1407.7,2284.5 L1411.7,2283.5 L1415.7,2282.5 L1419.7,2281.4 L1423.7,2280.3 L1427.6,2279.2 L1431.6,2278.1 L1435.6,2276.9 L1439.5,2275.8 L1443.5,2274.6 L1447.4,2273.4 L1451.4,2272.2 L1455.4,2271.0 L1459.4,2269.7 L1463.3,2268.4 L1467.3,2267.2 L1471.3,2265.9 L1475.2,2264.5 L1479.2,2263.2 L1483.1,2261.9 L1487.1,2260.5 L1491.2,2259.1 L1495.3,2257.6 L1499.5,2256.0 L1503.7,2254.5 L1507.9,2252.9 L1512.0,2251.4 L1515.8,2249.9 L1519.5,2248.5 L1522.9,2247.2 L1527.5,2245.4 L1531.5,2243.8 L1535.4,2242.2 L1540.0,2240.3 L1543.4,2238.8 L1547.1,2237.3 L1550.9,2235.6 L1555.0,2233.8 L1559.1,2232.0 L1563.3,2230.2 L1567.5,2228.4 L1571.7,2226.6 L1575.7,2224.8 L1579.7,2223.1 L1583.6,2221.5 L1587.6,2219.8 L1591.6,2218.1 L1595.5,2216.4 L1599.5,2214.7 L1603.5,2213.1 L1607.4,2211.4 L1611.4,2209.7 L1615.4,2208.0 L1619.3,2206.3 L1623.3,2204.6 L1627.3,2202.9 L1631.3,2201.2 L1635.2,2199.4 L1639.2,2197.7 L1643.1,2195.9 L1647.1,2194.1 L1651.2,2192.3 L1655.3,2190.4 L1659.5,2188.4 L1663.8,2186.4 L1667.9,2184.4 L1672.0,2182.5 L1675.8,2180.6 L1679.5,2178.8 L1682.9,2177.1 L1687.5,2174.8 L1691.6,2172.7 L1695.6,2170.6 L1700.0,2168.2 L1703.5,2166.3 L1707.2,2164.3 L1711.1,2162.2 L1715.0,2160.0 L1719.0,2157.8 L1722.9,2155.6 L1726.8,2153.4 L1730.6,2151.3 L1734.5,2149.1 L1738.3,2147.0 L1742.1,2144.8 L1746.0,2142.7 L1749.8,2140.5 L1753.6,2138.3 L1757.4,2136.1 L1761.3,2133.9 L1765.1,2131.7 L1768.9,2129.5 L1772.8,2127.3 L1776.6,2125.0 L1780.4,2122.7 L1784.2,2120.4 L1788.1,2118.1 L1791.9,2115.8 L1795.7,2113.5 L1799.5,2111.1 L1803.3,2108.8 L1807.1,2106.4 L1810.5,2104.2 L1813.8,2102.0 L1817.2,2099.9 L1820.6,2097.7 L1823.9,2095.5 L1827.3,2093.2 L1830.6,2091.0 L1833.9,2088.8 L1837.5,2086.3 L1841.1,2083.9 L1844.7,2081.4 L1848.2,2078.9 L1851.7,2076.4 L1855.3,2073.8 L1858.9,2071.2 L1862.2,2068.8 L1865.6,2066.4 L1868.9,2063.9 L1872.3,2061.4 L1875.6,2058.9 L1879.0,2056.4 L1882.4,2053.9 L1885.7,2051.3 L1889.1,2048.8 L1892.4,2046.3 L1895.8,2043.7 L1899.1,2041.2 L1902.5,2038.6 L1905.8,2036.1 L1909.2,2033.5 L1912.5,2030.9 L1915.9,2028.3 L1919.2,2025.7 L1922.6,2023.1 L1925.9,2020.4 L1929.3,2017.8 L1932.6,2015.1 L1936.0,2012.4 L1939.3,2009.7 L1942.7,2006.9 L1946.0,2004.1 L1949.3,2001.3 L1952.7,1998.4 L1956.0,1995.6 L1959.3,1992.7 L1962.7,1989.8 L1966.0,1987.0 L1969.4,1984.0 L1972.9,1981.0 L1976.4,1977.9 L1979.8,1974.8 L1983.3,1971.8 L1986.6,1968.8 L1989.8,1965.9 L1992.9,1963.1 L1996.5,1959.9 L1999.7,1957.0 L2002.9,1954.1 L2006.2,1951.0 L2010.0,1947.6 L2012.5,1945.3 L2015.2,1943.0 L2018.0,1940.5 L2021.0,1937.9 L2024.0,1935.2 L2027.1,1932.5 L2030.3,1929.7 L2033.4,1926.9 L2036.6,1924.0 L2039.7,1921.1 L2042.7,1918.2 L2045.7,1915.3 L2048.7,1912.2 L2051.7,1909.0 L2054.7,1905.6 L2057.6,1902.2 L2060.5,1898.8 L2063.4,1895.4 L2066.3,1891.9 L2069.3,1888.6 L2072.2,1885.3 L2075.2,1882.1 L2078.3,1879.1 L2081.4,1876.3 L2084.9,1873.4 L2088.5,1870.7 L2092.1,1868.2 L2095.8,1865.8 L2099.6,1863.4 L2103.3,1861.1 L2106.9,1858.9 L2110.4,1856.6 L2113.9,1854.2 L2117.1,1851.8 L2120.4,1849.1 L2123.5,1846.4 L2126.4,1843.8 L2129.3,1841.1 L2132.1,1838.4 L2135.0,1835.7 L2138.0,1833.0 L2141.2,1830.3 L2144.5,1827.7 L2147.9,1825.0 L2151.4,1822.4 L2155.0,1819.7 L2158.6,1817.1 L2162.2,1814.5 L2165.8,1811.9 L2169.2,1809.4 L2172.5,1806.9 L2176.1,1804.2 L2179.6,1801.4 L2183.0,1798.8 L2186.4,1796.1 L2189.7,1793.5 L2192.9,1791.0 L2195.9,1788.5 L2199.4,1785.7 L2202.9,1782.9 L2206.2,1780.2 L2209.2,1777.5 L2211.6,1774.8 L2214.5,1769.9 L2216.5,1765.0 L2217.9,1761.0 L2219.0,1756.9 L2220.4,1751.0 L2221.5,1745.2 L2222.5,1739.0" fill="none" stroke="#000080" stroke-width="10" stroke-linecap="round" stroke-linejoin="round"/>
<path d="M537.7,1756.5 L545.2,1754.3 L549.4,1756.4 L553.6,1760.2 L556.1,1763.2 L558.5,1766.7 L560.9,1770.4 L563.6,1773.6 L567.2,1777.0 L571.1,1780.0 L575.3,1782.8 L578.8,1784.9 L582.6,1786.8 L586.4,1788.6 L590.4,1790.3 L594.8,1792.0 L599.3,1793.5 L603.9,1794.9 L608.8,1796.2 L612.7,1797.1 L616.7,1797.8 L620.9,1798.5 L625.2,1799.1 L629.5,1799.7 L634.0,1800.4 L638.1,1801.0 L642.4,1801.7 L646.9,1802.3 L651.4,1802.9 L655.8,1803.6 L660.1,1804.2 L664.0,1804.8 L667.4,1805.4 L671.7,1806.4 L675.3,1807.3 L680.0,1808.2 L683.7,1808.6 L688.0,1809.0 L692.8,1809.3 L698.0,1809.7 L703.7,1809.9 L709.6,1810.2 L715.7,1810.4 L722.0,1810.6 L728.3,1810.8 L734.7,1810.9 L740.9,1811.1 L747.0,1811.2 L754.0,1811.4 L761.3,1811.5 L768.7,1811.6 L776.3,1811.7 L783.9,1811.7 L791.6,1811.8 L799.3,1811.8 L806.9,1811.7 L814.5,1811.7 L821.9,1811.7 L829.2,1811.6 L836.2,1811.5 L842.2,1811.4 L848.3,1811.3 L854.5,1811.2 L860.6,1811.1 L866.6,1811.0 L872.6,1810.8 L878.3,1810.6 L883.9,1810.5 L889.2,1810.3 L894.2,1810.0 L898.9,1809.8 L903.2,1809.5 L908.6,1809.1 L913.4,1808.7 L917.7,1808.3 L921.7,1807.7 L925.5,1807.0 L930.8,1805.0 L936.7,1803.0 L939.8,1802.5 L943.4,1802.1 L947.3,1801.8 L951.6,1801.6 L956.3,1801.5 L961.1,1801.4 L966.2,1801.3 L971.4,1801.2 L976.7,1801.1 L982.0,1801.0 L987.3,1800.8 L992.5,1800.5 L999.1,1800.1 L1005.9,1799.6 L1013.0,1799.1 L1020.2,1798.6 L1027.5,1798.0 L1035.0,1797.4 L1042.5,1796.8 L1050.0,1796.2 L1057.6,1795.6 L1065.1,1795.1 L1072.6,1794.5 L1080.0,1794.0 L1087.4,1793.5 L1094.8,1793.0 L1102.3,1792.6 L1109.7,1792.1 L1117.1,1791.7 L1124.6,1791.2 L1132.0,1790.8 L1139.5,1790.3 L1147.0,1789.9 L1154.4,1789.4 L1161.9,1788.9 L1169.3,1788.4 L1176.7,1787.9 L1184.2,1787.3 L1191.6,1786.7 L1199.1,1786.1 L1206.5,1785.5 L1213.9,1784.9 L1221.4,1784.3 L1228.8,1783.7 L1236.3,1783.1 L1243.7,1782.6 L1251.2,1782.0 L1258.6,1781.5 L1266.0,1781.0 L1273.5,1780.5 L1280.9,1780.1 L1288.4,1779.6 L1295.8,1779.2 L1303.2,1778.8 L1310.7,1778.4 L1318.1,1777.9 L1325.6,1777.5 L1333.0,1777.1 L1340.5,1776.7 L1347.9,1776.3 L1355.4,1775.9 L1363.1,1775.5 L1371.0,1775.0 L1378.8,1774.6 L1386.7,1774.2 L1394.5,1773.7 L1402.2,1773.3 L1409.8,1772.9 L1417.1,1772.5 L1424.1,1772.1 L1430.8,1771.8 L1437.1,1771.4 L1441.9,1771.1 L1446.4,1770.8 L1450.6,1770.6 L1454.6,1770.3 L1458.5,1770.0 L1462.5,1769.8 L1466.5,1769.5 L1470.7,1769.3 L1475.1,1769.0 L1480.0,1768.8 L1486.3,1768.5 L1493.1,1768.2 L1500.2,1768.0 L1507.6,1767.7 L1515.2,1767.5 L1523.0,1767.2 L1530.9,1767.0 L1538.8,1766.7 L1546.6,1766.5 L1554.4,1766.2 L1562.0,1766.0 L1569.3,1765.7 L1576.2,1765.4 L1583.4,1765.1 L1590.8,1764.8 L1598.3,1764.5 L1605.8,1764.1 L1613.1,1763.8 L1620.1,1763.5 L1626.8,1763.2 L1632.9,1763.0 L1638.5,1762.9 L1643.4,1762.8 L1647.4,1762.8 L1653.0,1763.2 L1658.6,1763.6 L1663.1,1763.6 L1668.6,1763.6 L1674.9,1763.4 L1682.1,1763.2 L1689.8,1763.0 L1697.9,1762.6 L1706.4,1762.3 L1715.0,1762.0 L1723.6,1761.6 L1732.0,1761.2 L1740.2,1760.9 L1747.9,1760.6 L1755.4,1760.3 L1763.1,1759.9 L1771.0,1759.6 L1778.8,1759.2 L1786.7,1758.8 L1794.5,1758.4 L1802.2,1758.1 L1809.8,1757.7 L1817.1,1757.4 L1824.1,1757.1 L1830.8,1756.8 L1837.1,1756.6 L1842.0,1756.5 L1846.6,1756.4 L1850.9,1756.3 L1855.1,1756.3 L1859.2,1756.2 L1863.2,1756.2 L1867.2,1756.2 L1871.3,1756.1 L1875.6,1756.1 L1880.0,1756.0 L1884.4,1755.9 L1888.9,1755.8 L1893.4,1755.7 L1898.1,1755.6 L1902.7,1755.5 L1907.4,1755.4 L1912.2,1755.3 L1916.9,1755.2 L1921.7,1755.1 L1926.4,1755.0 L1931.1,1754.9 L1935.8,1754.8 L1940.5,1754.7 L1945.3,1754.7 L1950.1,1754.7 L1954.9,1754.7 L1959.8,1754.6 L1964.6,1754.6 L1969.4,1754.6 L1974.0,1754.6 L1978.6,1754.6 L1983.1,1754.5 L1987.4,1754.5 L1991.6,1754.4 L1996.3,1754.3 L2000.9,1754.3 L2005.3,1754.2 L2009.6,1754.1 L2013.8,1754.0 L2017.8,1753.8 L2021.5,1753.6 L2025.1,1753.2 L2029.5,1752.4 L2033.4,1751.5 L2037.3,1750.5 L2041.8,1749.6 L2045.4,1749.1 L2049.5,1748.7 L2053.9,1748.3 L2058.5,1747.9 L2063.2,1747.5 L2067.8,1747.2 L2072.2,1746.9 L2076.3,1746.5 L2080.0,1746.2 L2084.8,1745.7 L2089.0,1745.2 L2093.1,1744.7 L2097.7,1744.2 L2102.0,1743.9 L2106.7,1743.7 L2111.6,1743.4 L2116.4,1743.2 L2121.2,1742.9 L2125.6,1742.4 L2130.7,1741.5 L2135.4,1740.5 L2140.1,1739.4 L2145.2,1738.5 L2149.5,1738.0 L2154.0,1737.6 L2158.7,1737.3 L2163.4,1737.1 L2168.0,1736.8 L2172.5,1736.6 L2177.4,1736.3 L2182.2,1736.1 L2187.0,1735.9 L2191.5,1735.7 L2195.9,1735.6 L2201.5,1735.4 L2206.8,1735.3 L2211.6,1735.6 L2216.5,1736.7 L2221.0,1738.1" fill="none" stroke="#FF8000" stroke-width="10" stroke-linecap="round" stroke-linejoin="round"/>
<path d="M1436,274.7 L1086.6,293.4 M1131.6,270.8 L1086.6,293.4 L1133.5,313" fill="none" stroke="#FF8000" stroke-width="9" stroke-linecap="round" stroke-linejoin="round"/>
<path d="M1421.8,740.7 L1648,661 M1600.7,656 L1648,661 L1614.1,694.8" fill="none" stroke="#000080" stroke-width="9" stroke-linecap="round" stroke-linejoin="round"/>
<path d="M2135.1,443.5 L2077.2,370.8 M2087.2,417 L2077.2,370.8 L2119.7,392.2" fill="none" stroke="#000" stroke-width="9" stroke-linecap="round" stroke-linejoin="round"/>
<path d="M1499.8,993.8 L1153,1014.7 M1198,992 L1153,1014.7 L1200,1033.4" fill="none" stroke="#FF8000" stroke-width="9" stroke-linecap="round" stroke-linejoin="round"/>
<path d="M1576.4,1499 L1803.5,1396 M1762,1396 L1803.5,1396 L1772.8,1432.9" fill="none" stroke="#000080" stroke-width="9" stroke-linecap="round" stroke-linejoin="round"/>
<path d="M2129.6,1261.8 L2070.5,1188.5 M2081.4,1235 L2070.5,1188.5 L2114.6,1209.4" fill="none" stroke="#000" stroke-width="9" stroke-linecap="round" stroke-linejoin="round"/>
<path d="M1556.1,1723.6 L1207.7,1742.5 M1252.7,1719.8 L1207.7,1742.5 L1253.8,1762.8" fill="none" stroke="#FF8000" stroke-width="9" stroke-linecap="round" stroke-linejoin="round"/>
<path d="M1528.4,2283.2 L1751,2180.6 M1700.2,2179.6 L1751,2180.6 L1717.8,2216.8" fill="none" stroke="#000080" stroke-width="9" stroke-linecap="round" stroke-linejoin="round"/>
<path d="M2132.8,1970.1 L2073,1896 M2083.5,1943.6 L2073,1896 L2116.9,1917.7" fill="none" stroke="#000" stroke-width="9" stroke-linecap="round" stroke-linejoin="round"/>
<line x1="590" y1="86.8" x2="590" y2="2467" stroke="#000" stroke-width="10" stroke-linecap="round" stroke-dasharray="23 38.93"/>
<rect x="382.5" y="85.5" width="1945.0" height="2384.0" fill="none" stroke="#000" stroke-width="5"/>
<line x1="382.5" y1="879.5" x2="2327.5" y2="879.5" stroke="#000" stroke-width="5" stroke-linecap="butt"/>
<line x1="382.5" y1="1674.5" x2="2327.5" y2="1674.5" stroke="#000" stroke-width="7" stroke-linecap="butt"/>
<line x1="515.5" y1="861" x2="515.5" y2="877" stroke="#000" stroke-width="5" stroke-linecap="butt"/>
<line x1="648.6875" y1="869" x2="648.6875" y2="877" stroke="#000" stroke-width="5" stroke-linecap="butt"/>
<line x1="781.875" y1="861" x2="781.875" y2="877" stroke="#000" stroke-width="5" stroke-linecap="butt"/>
<line x1="915.0625" y1="869" x2="915.0625" y2="877" stroke="#000" stroke-width="5" stroke-linecap="butt"/>
<line x1="1048.25" y1="861" x2="1048.25" y2="877" stroke="#000" stroke-width="5" stroke-linecap="butt"/>
<line x1="1181.4375" y1="869" x2="1181.4375" y2="877" stroke="#000" stroke-width="5" stroke-linecap="butt"/>
<line x1="1314.625" y1="861" x2="1314.625" y2="877" stroke="#000" stroke-width="5" stroke-linecap="butt"/>
<line x1="1447.8125" y1="869" x2="1447.8125" y2="877" stroke="#000" stroke-width="5" stroke-linecap="butt"/>
<line x1="1581.0" y1="861" x2="1581.0" y2="877" stroke="#000" stroke-width="5" stroke-linecap="butt"/>
<line x1="1714.1875" y1="869" x2="1714.1875" y2="877" stroke="#000" stroke-width="5" stroke-linecap="butt"/>
<line x1="1847.375" y1="861" x2="1847.375" y2="877" stroke="#000" stroke-width="5" stroke-linecap="butt"/>
<line x1="1980.5625" y1="869" x2="1980.5625" y2="877" stroke="#000" stroke-width="5" stroke-linecap="butt"/>
<line x1="2113.75" y1="861" x2="2113.75" y2="877" stroke="#000" stroke-width="5" stroke-linecap="butt"/>
<line x1="2246.9375" y1="869" x2="2246.9375" y2="877" stroke="#000" stroke-width="5" stroke-linecap="butt"/>
<line x1="515.5" y1="1655" x2="515.5" y2="1671" stroke="#000" stroke-width="5" stroke-linecap="butt"/>
<line x1="648.6875" y1="1663" x2="648.6875" y2="1671" stroke="#000" stroke-width="5" stroke-linecap="butt"/>
<line x1="781.875" y1="1655" x2="781.875" y2="1671" stroke="#000" stroke-width="5" stroke-linecap="butt"/>
<line x1="915.0625" y1="1663" x2="915.0625" y2="1671" stroke="#000" stroke-width="5" stroke-linecap="butt"/>
<line x1="1048.25" y1="1655" x2="1048.25" y2="1671" stroke="#000" stroke-width="5" stroke-linecap="butt"/>
<line x1="1181.4375" y1="1663" x2="1181.4375" y2="1671" stroke="#000" stroke-width="5" stroke-linecap="butt"/>
<line x1="1314.625" y1="1655" x2="1314.625" y2="1671" stroke="#000" stroke-width="5" stroke-linecap="butt"/>
<line x1="1447.8125" y1="1663" x2="1447.8125" y2="1671" stroke="#000" stroke-width="5" stroke-linecap="butt"/>
<line x1="1581.0" y1="1655" x2="1581.0" y2="1671" stroke="#000" stroke-width="5" stroke-linecap="butt"/>
<line x1="1714.1875" y1="1663" x2="1714.1875" y2="1671" stroke="#000" stroke-width="5" stroke-linecap="butt"/>
<line x1="1847.375" y1="1655" x2="1847.375" y2="1671" stroke="#000" stroke-width="5" stroke-linecap="butt"/>
<line x1="1980.5625" y1="1663" x2="1980.5625" y2="1671" stroke="#000" stroke-width="5" stroke-linecap="butt"/>
<line x1="2113.75" y1="1655" x2="2113.75" y2="1671" stroke="#000" stroke-width="5" stroke-linecap="butt"/>
<line x1="2246.9375" y1="1663" x2="2246.9375" y2="1671" stroke="#000" stroke-width="5" stroke-linecap="butt"/>
<line x1="515.5" y1="2451" x2="515.5" y2="2467" stroke="#000" stroke-width="5" stroke-linecap="butt"/>
<line x1="781.875" y1="2459" x2="781.875" y2="2481" stroke="#000" stroke-width="5" stroke-linecap="butt"/>
<line x1="1048.25" y1="2451" x2="1048.25" y2="2467" stroke="#000" stroke-width="5" stroke-linecap="butt"/>
<line x1="1314.625" y1="2459" x2="1314.625" y2="2481" stroke="#000" stroke-width="5" stroke-linecap="butt"/>
<line x1="1581.0" y1="2451" x2="1581.0" y2="2467" stroke="#000" stroke-width="5" stroke-linecap="butt"/>
<line x1="1847.375" y1="2459" x2="1847.375" y2="2481" stroke="#000" stroke-width="5" stroke-linecap="butt"/>
<line x1="2113.75" y1="2451" x2="2113.75" y2="2467" stroke="#000" stroke-width="5" stroke-linecap="butt"/>
<line x1="385" y1="302.0" x2="401" y2="302.0" stroke="#000" stroke-width="4.5" stroke-linecap="butt"/>
<line x1="385" y1="662.4" x2="401" y2="662.4" stroke="#000" stroke-width="4.5" stroke-linecap="butt"/>
<line x1="385" y1="121.80000000000001" x2="393" y2="121.80000000000001" stroke="#000" stroke-width="4.5" stroke-linecap="butt"/>
<line x1="385" y1="482.2" x2="393" y2="482.2" stroke="#000" stroke-width="4.5" stroke-linecap="butt"/>
<line x1="385" y1="842.5999999999999" x2="393" y2="842.5999999999999" stroke="#000" stroke-width="4.5" stroke-linecap="butt"/>
<line x1="385" y1="1014.1" x2="401" y2="1014.1" stroke="#000" stroke-width="4.5" stroke-linecap="butt"/>
<line x1="385" y1="1284.2" x2="401" y2="1284.2" stroke="#000" stroke-width="4.5" stroke-linecap="butt"/>
<line x1="385" y1="1554.3000000000002" x2="401" y2="1554.3000000000002" stroke="#000" stroke-width="4.5" stroke-linecap="butt"/>
<line x1="385" y1="1149.15" x2="393" y2="1149.15" stroke="#000" stroke-width="4.5" stroke-linecap="butt"/>
<line x1="385" y1="1419.25" x2="393" y2="1419.25" stroke="#000" stroke-width="4.5" stroke-linecap="butt"/>
<line x1="385" y1="1789.3999999999999" x2="401" y2="1789.3999999999999" stroke="#000" stroke-width="4.5" stroke-linecap="butt"/>
<line x1="385" y1="2073.2" x2="401" y2="2073.2" stroke="#000" stroke-width="4.5" stroke-linecap="butt"/>
<line x1="385" y1="2357.0" x2="401" y2="2357.0" stroke="#000" stroke-width="4.5" stroke-linecap="butt"/>
<line x1="385" y1="1931.2999999999997" x2="393" y2="1931.2999999999997" stroke="#000" stroke-width="4.5" stroke-linecap="butt"/>
<line x1="385" y1="2215.1" x2="393" y2="2215.1" stroke="#000" stroke-width="4.5" stroke-linecap="butt"/>
<text x="365" y="335.3" font-size="110" font-weight="bold" fill="#000" text-anchor="end" >1.0</text>
<text x="365" y="695.7" font-size="110" font-weight="bold" fill="#000" text-anchor="end" >0.5</text>
<text x="365" y="1047.4" font-size="110" font-weight="bold" fill="#000" text-anchor="end" >1.5</text>
<text x="365" y="1317.5" font-size="110" font-weight="bold" fill="#000" text-anchor="end" >1.0</text>
<text x="365" y="1587.6" font-size="110" font-weight="bold" fill="#000" text-anchor="end" >0.5</text>
<text x="365" y="1822.7" font-size="110" font-weight="bold" fill="#000" text-anchor="end" >1.5</text>
<text x="365" y="2106.5" font-size="110" font-weight="bold" fill="#000" text-anchor="end" >1.0</text>
<text x="365" y="2390.3" font-size="110" font-weight="bold" fill="#000" text-anchor="end" >0.5</text>
<text x="515.5" y="2571.8" font-size="110" font-weight="bold" fill="#000" text-anchor="middle" >0</text>
<text x="1048.2" y="2571.8" font-size="110" font-weight="bold" fill="#000" text-anchor="middle" >100</text>
<text x="1581.0" y="2571.8" font-size="110" font-weight="bold" fill="#000" text-anchor="middle" >200</text>
<text x="2113.8" y="2571.8" font-size="110" font-weight="bold" fill="#000" text-anchor="middle" >300</text>
<text x="1369.5" y="2713.9" font-size="120" font-weight="bold" fill="#000" text-anchor="middle" >T (K)</text>
<text transform="translate(173.9,1335.6) rotate(-90)" font-size="121" font-weight="bold" text-anchor="middle">M (Am<tspan font-size="110" dy="-59">2</tspan><tspan dy="59">/kg)</tspan></text>
<text x="401.0" y="181.1" font-size="88" font-weight="bold" fill="#000" text-anchor="start" >(a)</text>
<text x="409.0" y="984.0" font-size="88" font-weight="bold" fill="#000" text-anchor="start" >(b)</text>
<text x="409.1" y="1780.9" font-size="88" font-weight="bold" fill="#000" text-anchor="start" >(c)</text>
<text x="682.29" y="220.2" font-size="101" font-weight="bold" fill="#000" text-anchor="start" >10 mT</text>
<text x="1245.6" y="269.5" font-size="74" font-weight="bold" fill="#FF8000" text-anchor="start" >FC</text>
<text transform="translate(1523.9,802) rotate(-21.3)" font-size="73" font-weight="bold" fill="#000080">ZFC</text>
<text x="2010.6" y="829.7" font-size="114" font-weight="bold" fill="#000" text-anchor="start" letter-spacing="-1.15">CS-10</text>
<text x="2073.2" y="1623.7" font-size="114" font-weight="bold" fill="#000" text-anchor="start" letter-spacing="-1.3">CS-5</text>
<text x="2085.9" y="2440.9" font-size="114" font-weight="bold" fill="#000" text-anchor="start" letter-spacing="-1.6">CS-1</text>
<text x="1986.5" y="520.2" font-size="75" font-weight="bold">T<tspan font-weight="normal" font-size="64" dy="19">N</tspan><tspan dy="-13">≈</tspan><tspan dy="-6">290 K</tspan></text>
<text x="1990.7" y="1323.3" font-size="75" font-weight="bold">T<tspan font-weight="normal" font-size="64" dy="19">N</tspan><tspan dy="-13">≈</tspan><tspan dy="-6">290 K</tspan></text>
<text x="1988.6" y="2042.9" font-size="75" font-weight="bold">T<tspan font-weight="normal" font-size="64" dy="19">N</tspan><tspan dy="-13">≈</tspan><tspan dy="-6">290 K</tspan></text>
<line x1="662.7" y1="1232.8" x2="862.1" y2="1232.8" stroke="#000080" stroke-width="10" stroke-linecap="round"/>
<line x1="662.7" y1="1345" x2="862.1" y2="1345" stroke="#FF8000" stroke-width="10" stroke-linecap="round"/>
<text x="881.1411" y="1265" font-size="91" font-weight="bold" fill="#000" text-anchor="start" >ZFC</text>
<text x="883.2438999999999" y="1376.8" font-size="91" font-weight="bold" fill="#000" text-anchor="start" >FC</text>
</svg>
</body></html>
